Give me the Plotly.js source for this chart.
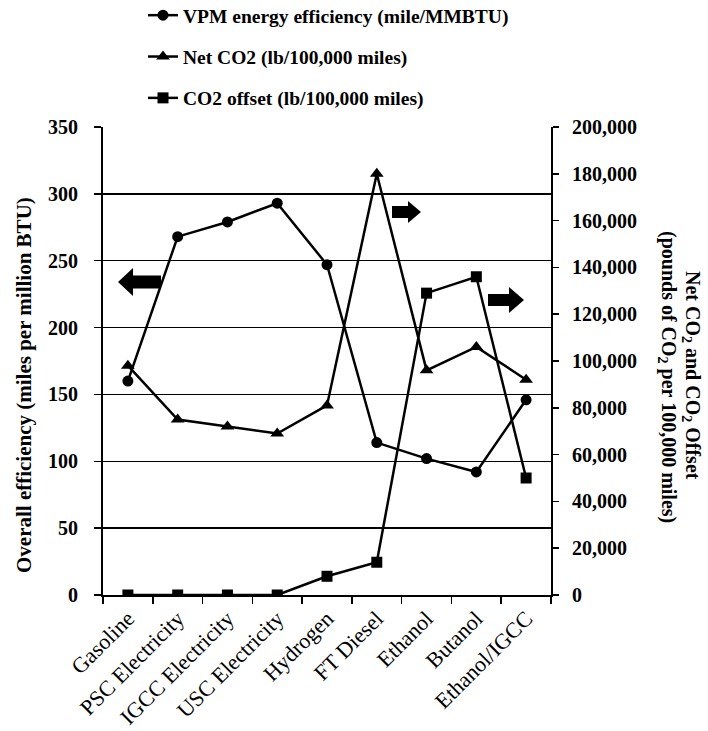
<!DOCTYPE html>
<html>
<head>
<meta charset="utf-8">
<script src="https://cdn.plot.ly/plotly-3.0.1.min.js"></script>
<style>html,body{margin:0;padding:0;background:#fff;}#chart{width:708px;height:731px;}</style>
</head>
<body>
<div id="chart"></div>
<script>
// ---- data ----
var categories = ["Gasoline", "PSC Electricity", "IGCC Electricity", "USC Electricity", "Hydrogen", "FT Diesel", "Ethanol", "Butanol", "Ethanol/IGCC"];
var vpmEfficiency = [160, 268, 279, 293, 247, 114, 102, 92, 146];
var netCO2 = [98000, 75000, 72000, 69000, 81000, 180000, 96000, 106000, 92000];
var co2Offset = [0, 0, 0, 0, 8000, 14000, 129000, 136000, 50000];
var seriesNames = ["VPM energy efficiency (mile/MMBTU)", "Net CO2 (lb/100,000 miles)", "CO2 offset (lb/100,000 miles)"];
var leftTitle = "Overall efficiency (miles per million BTU)";
var rightTitle1 = "Net CO<sub>2</sub> and CO<sub>2</sub> Offset";
var rightTitle2 = "(pounds of CO<sub>2</sub> per 100,000 miles)";

// ---- layout geometry ----
var W = 708, H = 731, L = 103, R = 157, T = 127, B = 136;
var PW = W - L - R, PH = H - T - B;
function px(x) { return (x - L) / PW; }
function py(y) { return (H - B - y) / PH; }
function arrowPath(body, base, tip, yc, hh, bh) {
  var pts = [[tip, yc], [base, yc - hh], [base, yc - bh], [body, yc - bh], [body, yc + bh], [base, yc + bh], [base, yc + hh]];
  return "M" + pts.map(function (p) { return px(p[0]).toFixed(4) + "," + py(p[1]).toFixed(4); }).join(" L") + " Z";
}

var SERIF = "Liberation Serif, Times New Roman, serif";
var lineStyle = { color: "#000", width: 2.5 };
var boldFont = function (s) { return { family: SERIF, size: s, color: "#000", weight: "bold" }; };

var traces = [
  { x: categories, y: vpmEfficiency, name: seriesNames[0], type: "scatter", mode: "lines+markers",
    line: lineStyle, marker: { symbol: "circle", size: 11, color: "#000" }, legendgroup: "a", yaxis: "y" },
  { x: categories, y: netCO2, name: seriesNames[1], type: "scatter", mode: "lines+markers",
    line: lineStyle, marker: { symbol: "triangle-up", size: 12, color: "#000" }, legendgroup: "b", yaxis: "y2" },
  { x: categories, y: co2Offset, name: seriesNames[2], type: "scatter", mode: "lines+markers",
    line: lineStyle, marker: { symbol: "square", size: 11, color: "#000" }, legendgroup: "c", yaxis: "y2" }
];

var layout = {
  width: W, height: H,
  margin: { l: L, r: R, t: T, b: B, autoexpand: false },
  paper_bgcolor: "#fff", plot_bgcolor: "#fff",
  font: { family: SERIF, color: "#000" },
  showlegend: true,
  legend: { x: px(143), y: py(-4), xanchor: "left", yanchor: "top", orientation: "v",
    traceorder: "grouped", tracegroupgap: 13, itemwidth: 30,
    font: boldFont(19.5), bgcolor: "rgba(0,0,0,0)" },
  xaxis: {
    type: "category", range: [-0.5, 8.5], tickson: "boundaries",
    ticks: "outside", ticklen: 7, tickwidth: 1.5, tickcolor: "#000",
    showline: true, linecolor: "#000", linewidth: 2, showgrid: false,
    tickangle: -45, tickfont: { family: SERIF, size: 22, color: "#000" }
  },
  yaxis: {
    range: [0, 350], dtick: 50, tick0: 0,
    ticks: "outside", ticklen: 7, tickwidth: 1.5, tickcolor: "#000",
    ticklabelstandoff: 12,
    showline: true, linecolor: "#000", linewidth: 2,
    showgrid: true, gridcolor: "#000", gridwidth: 1.5, zeroline: false,
    tickfont: boldFont(20)
  },
  yaxis2: {
    overlaying: "y", side: "right", range: [0, 200000], dtick: 20000, tick0: 0,
    tickformat: ",d", ticks: "outside", ticklen: 6, tickwidth: 1.5, tickcolor: "#000",
    ticklabelstandoff: 9,
    showline: true, linecolor: "#000", linewidth: 2, showgrid: false, zeroline: false,
    tickfont: boldFont(20)
  },
  annotations: [
    { xref: "paper", yref: "paper", x: px(24), y: py(385), xanchor: "center", yanchor: "middle",
      textangle: -90, showarrow: false, text: leftTitle, font: boldFont(21) },
    { xref: "paper", yref: "paper", x: px(692), y: py(375), xanchor: "center", yanchor: "middle",
      textangle: 90, showarrow: false, text: rightTitle1, font: boldFont(20) },
    { xref: "paper", yref: "paper", x: px(668), y: py(377), xanchor: "center", yanchor: "middle",
      textangle: 90, showarrow: false, text: rightTitle2, font: boldFont(20) }
  ],
  shapes: [
    { type: "path", xref: "paper", yref: "paper", path: arrowPath(161, 133, 118, 282, 14, 6.5), fillcolor: "#000", line: { width: 0 } },
    { type: "path", xref: "paper", yref: "paper", path: arrowPath(392, 408, 421, 212, 11, 6), fillcolor: "#000", line: { width: 0 } },
    { type: "path", xref: "paper", yref: "paper", path: arrowPath(488, 509, 524, 300, 13, 6), fillcolor: "#000", line: { width: 0 } }
  ]
};

Plotly.newPlot("chart", traces, layout, { displayModeBar: false, staticPlot: true });
</script>
</body>
</html>
